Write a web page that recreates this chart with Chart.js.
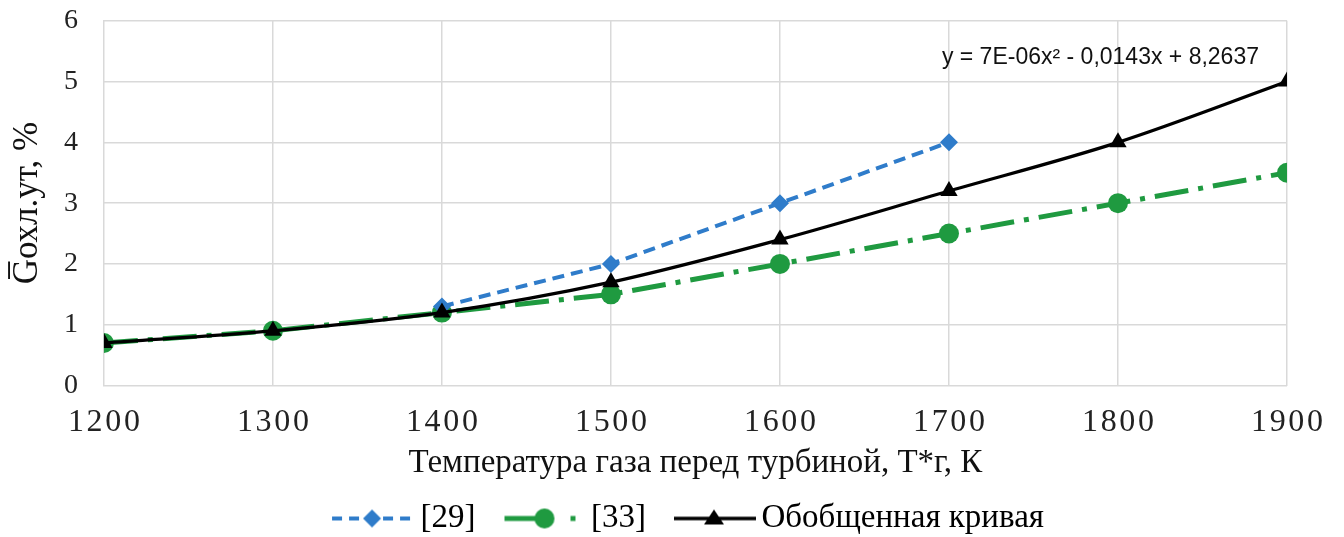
<!DOCTYPE html>
<html lang="ru">
<head>
    <meta charset="UTF-8">
    <title>Охлаждающий воздух</title>
    <script src="https://cdn.jsdelivr.net/npm/chart.js"></script>
    <style>
        * { margin: 0; padding: 0; box-sizing: border-box; }
        body { background: #fff; width: 1344px; height: 537px; overflow: hidden; }
        .chart-box { position: relative; width: 1344px; height: 537px; }
    </style>
</head>
<body>
    <div class="chart-box">
        <canvas id="cooling-chart"></canvas>
    </div>

    <script>
        // data
        const temps = [1200, 1300, 1400, 1500, 1600, 1700, 1800, 1900];
        const ref29 = [null, null, 1.3, 2.0, 3.0, 4.0, null, null];
        const ref33 = [0.7, 0.9, 1.2, 1.5, 2.0, 2.5, 3.0, 3.5];
        const general = [0.7, 0.9, 1.2, 1.7, 2.4, 3.2, 4.0, 5.0];
        const seriesNames = ['[29]', '[33]', 'Обобщенная кривая'];
        const yTicks = [0, 1, 2, 3, 4, 5, 6];
        const equation = 'y = 7E-06x² - 0,0143x + 8,2637';

        const SERIF = '"Liberation Serif", "Times New Roman", serif';
        const BLUE = '#2f7cca';
        const GREEN = '#1f9a40';
        const BLACK = '#000000';

        // legend: every sample box is the same width, the image is 22px wider and
        // its drawing sits at the right end, 5px before the label text
        const LEGEND_BOX = 97;
        const SAMPLE_W = LEGEND_BOX + 22;

        function toPoints(values) {
            return temps.map((t, i) => ({ x: t, y: values[i] })).filter(p => p.y !== null);
        }

        function drawMarker(g, style, x, y, r, color) {
            g.fillStyle = color;
            g.setLineDash([]);
            g.beginPath();
            if (style === 'circle') {
                g.arc(x, y, r, 0, Math.PI * 2);
            } else if (style === 'rectRot') {
                g.moveTo(x, y - r); g.lineTo(x + r, y); g.lineTo(x, y + r); g.lineTo(x - r, y);
                g.closePath();
            } else {
                const h = r * 1.5;
                g.moveTo(x, y - h * 0.6); g.lineTo(x + r, y + h * 0.4); g.lineTo(x - r, y + h * 0.4);
                g.closePath();
            }
            g.fill();
        }

        function makeSample(width, paint) {
            const c = document.createElement('canvas');
            c.width = SAMPLE_W; c.height = 28;
            const g = c.getContext('2d');
            g.translate(SAMPLE_W - width, 14);
            paint(g);
            return c;
        }

        const samples = [
            makeSample(83, g => {
                g.strokeStyle = BLUE; g.lineWidth = 4; g.setLineDash([10, 7]);
                g.beginPath(); g.moveTo(0, 0); g.lineTo(83, 0); g.stroke();
                drawMarker(g, 'rectRot', 40, 0, 9, BLUE);
            }),
            makeSample(81, g => {
                g.strokeStyle = GREEN; g.lineWidth = 5;
                g.beginPath(); g.moveTo(0, 0); g.lineTo(40, 0); g.stroke();
                drawMarker(g, 'circle', 40, 0, 10, GREEN);
                g.fillRect(66, -2.5, 5, 5);
            }),
            makeSample(82, g => {
                g.strokeStyle = BLACK; g.lineWidth = 3.5;
                g.beginPath(); g.moveTo(0, 0); g.lineTo(82, 0); g.stroke();
                drawMarker(g, 'triangle', 40, 0, 10, BLACK);
            })
        ];

        const equationLabel = {
            id: 'equationLabel',
            afterDraw(chart) {
                const ctx = chart.ctx;
                const x = chart.scales.x.getPixelForValue(1900);
                const y = chart.scales.y.getPixelForValue(5.4);
                ctx.save();
                ctx.font = '23px "Liberation Sans", Arial, sans-serif';
                ctx.fillStyle = '#111';
                ctx.textAlign = 'right';
                ctx.textBaseline = 'middle';
                ctx.fillText(equation, x - 28, y);
                ctx.restore();
            }
        };

        const ctx = document.getElementById('cooling-chart').getContext('2d');
        new Chart(ctx, {
            type: 'line',
            data: {
                datasets: [
                    {
                        label: seriesNames[0],
                        data: toPoints(ref29),
                        borderColor: BLUE,
                        backgroundColor: BLUE,
                        borderWidth: 4,
                        borderDash: [12, 7],
                        pointStyle: 'rectRot',
                        pointRadius: 9,
                        pointBorderWidth: 0,
                        tension: 0,
                        order: 1
                    },
                    {
                        label: seriesNames[1],
                        data: toPoints(ref33),
                        borderColor: GREEN,
                        backgroundColor: GREEN,
                        borderWidth: 5,
                        borderDash: [34, 10, 5, 10],
                        pointStyle: 'circle',
                        pointRadius: 10,
                        pointBorderWidth: 0,
                        tension: 0,
                        order: 2
                    },
                    {
                        label: seriesNames[2],
                        data: toPoints(general),
                        borderColor: BLACK,
                        backgroundColor: BLACK,
                        borderWidth: 3.2,
                        pointStyle: 'triangle',
                        pointRadius: 10,
                        pointBorderWidth: 0,
                        cubicInterpolationMode: 'monotone',
                        order: 0
                    }
                ]
            },
            options: {
                responsive: true,
                maintainAspectRatio: false,
                animation: false,
                layout: { padding: { top: 0, right: 0, left: 7, bottom: -8 } },
                plugins: {
                    tooltip: { enabled: false },
                    legend: {
                        position: 'bottom',
                        labels: {
                            usePointStyle: true,
                            pointStyleWidth: LEGEND_BOX,
                            padding: 2,
                            color: '#111',
                            font: { family: SERIF, size: 33, lineHeight: 1 },
                            generateLabels: () => seriesNames.map((name, i) => ({
                                text: name,
                                pointStyle: samples[i],
                                fillStyle: 'transparent',
                                strokeStyle: 'transparent',
                                lineWidth: 0,
                                datasetIndex: i,
                                hidden: false
                            }))
                        },
                        onClick: () => {}
                    }
                },
                scales: {
                    x: {
                        type: 'linear',
                        min: temps[0],
                        max: temps[temps.length - 1],
                        grid: { color: '#d9d9d9', lineWidth: 1.5, drawTicks: false },
                        border: { color: '#d9d9d9' },
                        ticks: {
                            stepSize: 100,
                            padding: 21,
                            color: '#222',
                            font: { family: SERIF, size: 32, lineHeight: 1 },
                            callback: v => String(v).split('').join('\u200A')
                        },
                        title: {
                            display: true,
                            text: 'Температура газа перед турбиной, Т*г, К',
                            color: '#111',
                            font: { family: SERIF, size: 33, lineHeight: 1 },
                            padding: { top: -12.5, bottom: 20 }
                        }
                    },
                    y: {
                        min: yTicks[0],
                        max: yTicks[yTicks.length - 1],
                        grid: { color: '#d9d9d9', lineWidth: 1.5, drawTicks: false },
                        border: { color: '#d9d9d9' },
                        afterBuildTicks: axis => { axis.ticks = yTicks.map(v => ({ value: v })); },
                        ticks: {
                            padding: 4,
                            color: '#222',
                            font: { family: SERIF, size: 28 },
                            callback: v => v + '\u2002\u2009\u200A'
                        },
                        title: {
                            display: true,
                            text: 'G\u0305охл.ут, %',
                            color: '#111',
                            font: { family: SERIF, size: 35 },
                            padding: { top: 0, bottom: 11 }
                        }
                    }
                }
            },
            plugins: [equationLabel]
        });
    </script>
</body>
</html>
